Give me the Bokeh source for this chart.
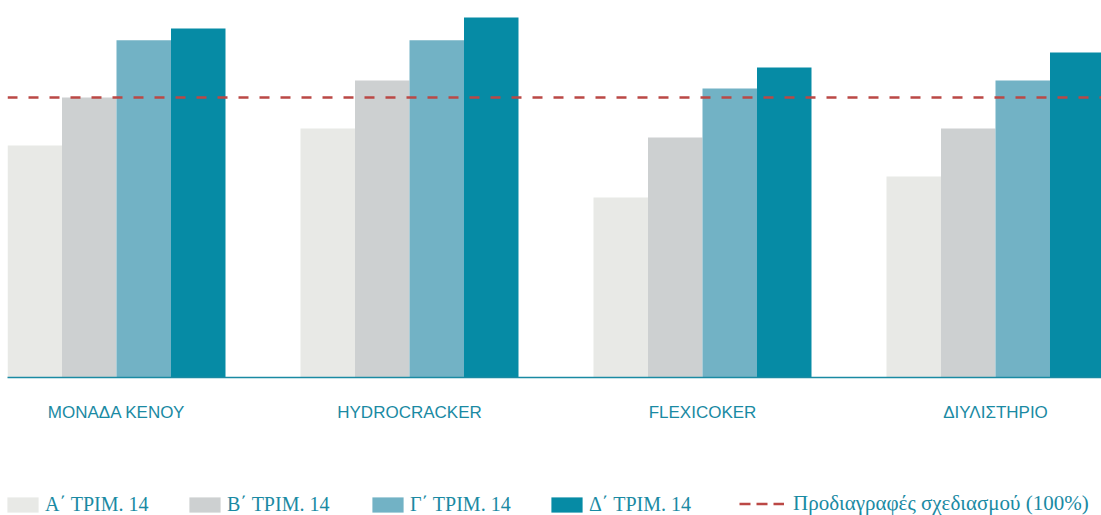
from bokeh.plotting import figure
from bokeh.layouts import column
from bokeh.models import Range1d, FixedTicker, Span, Legend, LegendItem, ColumnDataSource
from bokeh.embed import file_html
from bokeh.resources import INLINE

# ---- data ----
categories = ["ΜΟΝΑΔΑ ΚΕΝΟΥ", "HYDROCRACKER", "FLEXICOKER", "ΔΙΥΛΙΣΤΗΡΙΟ"]
series_names = ["Α΄ ΤΡΙΜ. 14", "Β΄ ΤΡΙΜ. 14", "Γ΄ ΤΡΙΜ. 14", "Δ΄ ΤΡΙΜ. 14"]
q1_values = [82.9, 88.9, 64.3, 71.8]
q2_values = [100.0, 106.1, 85.7, 88.9]
q3_values = [120.4, 120.4, 103.2, 106.1]
q4_values = [124.6, 128.6, 110.7, 116.1]
design_label = "Προδιαγραφές σχεδιασμού (100%)"
design_value = 100

# ---- style ----
series_values = [q1_values, q2_values, q3_values, q4_values]
colors = ["#e8e9e6", "#cdd0d1", "#72b2c5", "#068ba5"]
teal = "#1a8aa3"
red = "#bb4845"
bar_w = 0.186
offsets = [-0.279, -0.093, 0.093, 0.279]

W = 1101
H1 = 440
H2 = 75

p = figure(width=W, height=H1, output_backend="svg", toolbar_location=None,
           x_range=Range1d(-0.37201, 3.36178), y_range=Range1d(0, 134.64),
           y_axis_location=None, min_border=0, min_border_bottom=H1 - 377,
           min_border_left=7, min_border_right=0, min_border_top=0)
p.outline_line_color = None
p.xgrid.visible = False
p.ygrid.visible = False
p.background_fill_color = "white"
p.border_fill_color = "white"

idx = list(range(len(categories)))
sources = []
for k in range(4):
    src = ColumnDataSource(dict(x=[i + offsets[k] for i in idx], top=series_values[k]))
    sources.append(src)
    p.vbar(x="x", top="top", bottom=0, width=bar_w, source=src,
           fill_color=colors[k], line_color=None)

p.add_layout(Span(location=design_value, dimension="width", line_color=red,
                  line_width=2.5, line_dash="10 11"))

ax = p.xaxis[0]
ax.ticker = FixedTicker(ticks=idx)
ax.major_label_overrides = {i: c for i, c in zip(idx, categories)}
ax.major_tick_line_color = None
ax.minor_tick_line_color = None
ax.major_tick_out = 0
ax.major_tick_in = 0
ax.axis_line_color = teal
ax.axis_line_width = 1.5
ax.major_label_standoff = 25
ax.major_label_text_font = "Liberation Sans"
ax.major_label_text_font_size = "17px"
ax.major_label_text_color = teal

# ---- legend strip (same data, drawn outside its view; only the legend shows) ----
p2 = figure(width=W, height=H2, output_backend="svg", toolbar_location=None,
            x_range=Range1d(-0.37201, 3.36178), y_range=Range1d(1000, 1001),
            x_axis_location=None, y_axis_location=None, min_border=0,
            min_border_left=0, min_border_right=0, min_border_top=0, min_border_bottom=0)
p2.outline_line_color = None
p2.xgrid.visible = False
p2.ygrid.visible = False

swatch_renderers = [p2.vbar(x="x", top="top", bottom=0, width=bar_w, source=sources[k],
                            fill_color=colors[k], line_color=None)
                    for k in range(4)]
line_renderer = p2.line(x=idx, y=[design_value] * len(idx), line_color=red,
                        line_width=2.5, line_dash="11 6")

leg_positions = [-4, 178, 361, 540]
for k in range(4):
    leg = Legend(items=[LegendItem(label=series_names[k], renderers=[swatch_renderers[k]])],
                 location=(leg_positions[k], -1))
    leg.glyph_width = 39
    leg.glyph_height = 19
    leg.label_height = 19
    leg.label_standoff = 3
    leg.label_text_font_size = "20px"
    p2.add_layout(leg)

leg = Legend(items=[LegendItem(label=design_label, renderers=[line_renderer])],
             location=(732, -1))
leg.glyph_width = 45
leg.glyph_height = 19
leg.label_height = 19
leg.label_standoff = 9
leg.label_text_font_size = "21px"
p2.add_layout(leg)

for leg in p2.legend:
    leg.border_line_color = None
    leg.background_fill_alpha = 0
    leg.padding = 0
    leg.margin = 0
    leg.spacing = 0
    leg.label_text_font = "Liberation Serif"
    leg.label_text_color = teal

layout = column(p, p2, spacing=0)
open("out.html", "w").write(file_html(layout, INLINE))
